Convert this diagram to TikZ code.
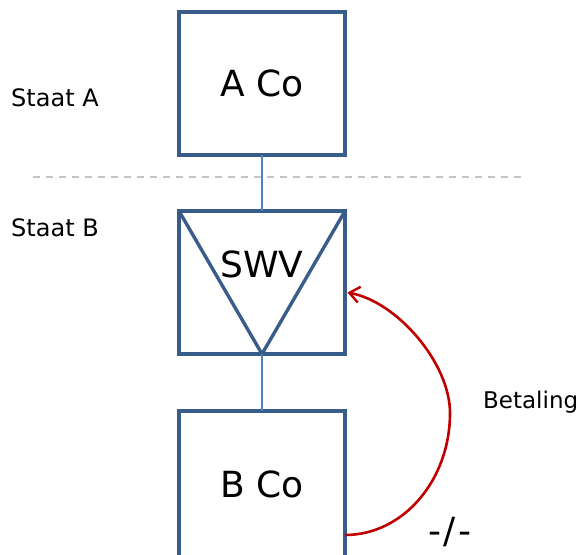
\documentclass[tikz,border=0pt]{standalone}
\usepackage{fontspec}
\setmainfont{DejaVu Sans}
\usetikzlibrary{arrows.meta}
\definecolor{boxblue}{RGB}{56,93,138}
\definecolor{linkblue}{RGB}{79,129,189}
\definecolor{payred}{RGB}{192,0,0}
\definecolor{sepgray}{RGB}{196,196,196}
\tikzset{
  entity/.style={draw=boxblue, line width=3.4pt, minimum width=166pt, minimum height=143pt, inner sep=0pt, outer sep=0pt},
  conn/.style={draw=linkblue, line width=1.3pt},
  bigtxt/.style={inner sep=0pt, anchor=base, font=\fontsize{36}{42}\selectfont},
  smalltxt/.style={inner sep=0pt, anchor=base west, font=\fontsize{24}{29}\selectfont},
  sepline/.style={draw=sepgray, line width=2pt, dash pattern=on 7pt off 6pt},
  pay/.style={draw=payred, line width=2.6pt, -{Straight Barb[length=10pt,width=16pt,line width=2.4pt]}}
}
\begin{document}
\begin{tikzpicture}[x=1pt,y=-1pt]
\useasboundingbox (0,0) rectangle (578,554);
\clip (0,0) rectangle (578,554);
% separator
\coordinate (d1) at (33,177);
\coordinate (d2) at (522,177);
\draw[sepline] (d1) -- (d2);
% boxes
\node[entity] (A) at (262,83.5) {};
\node[entity] (S) at (262,282.5) {};
\node[entity, minimum height=150pt] (B) at (262,486) {};
\draw[boxblue, line width=3.4pt, line join=miter] (S.north west) -- (S.south) -- (S.north east);
% connectors
\draw[conn] (A.south) -- (S.north);
\draw[conn] (S.south) -- (B.north);
% texts
\node[bigtxt] (tA) at (262,96.7) {A Co};
\node[bigtxt] (tS) at (262,277) {SWV};
\node[bigtxt] (tB) at (262,497.3) {B Co};
\node[bigtxt] (tX) at (450,543) {-\kern2.5pt/\kern2.5pt-};
\node[smalltxt] (sA) at (11,106.5) {Staat A};
\node[smalltxt] (sB) at (11,236) {Staat B};
\node[smalltxt, font=\fontsize{23}{28}\selectfont] (bet) at (483,408) {Betaling};
% payment arc
\coordinate (pb) at (345,535);
\coordinate (pa) at (347.5,292.5);
\draw[pay] (pb) arc[start angle=90, end angle=0, x radius=105, y radius=122]
  .. controls +(0,-50) and (397,301.7) .. (pa);
\end{tikzpicture}
\end{document}
